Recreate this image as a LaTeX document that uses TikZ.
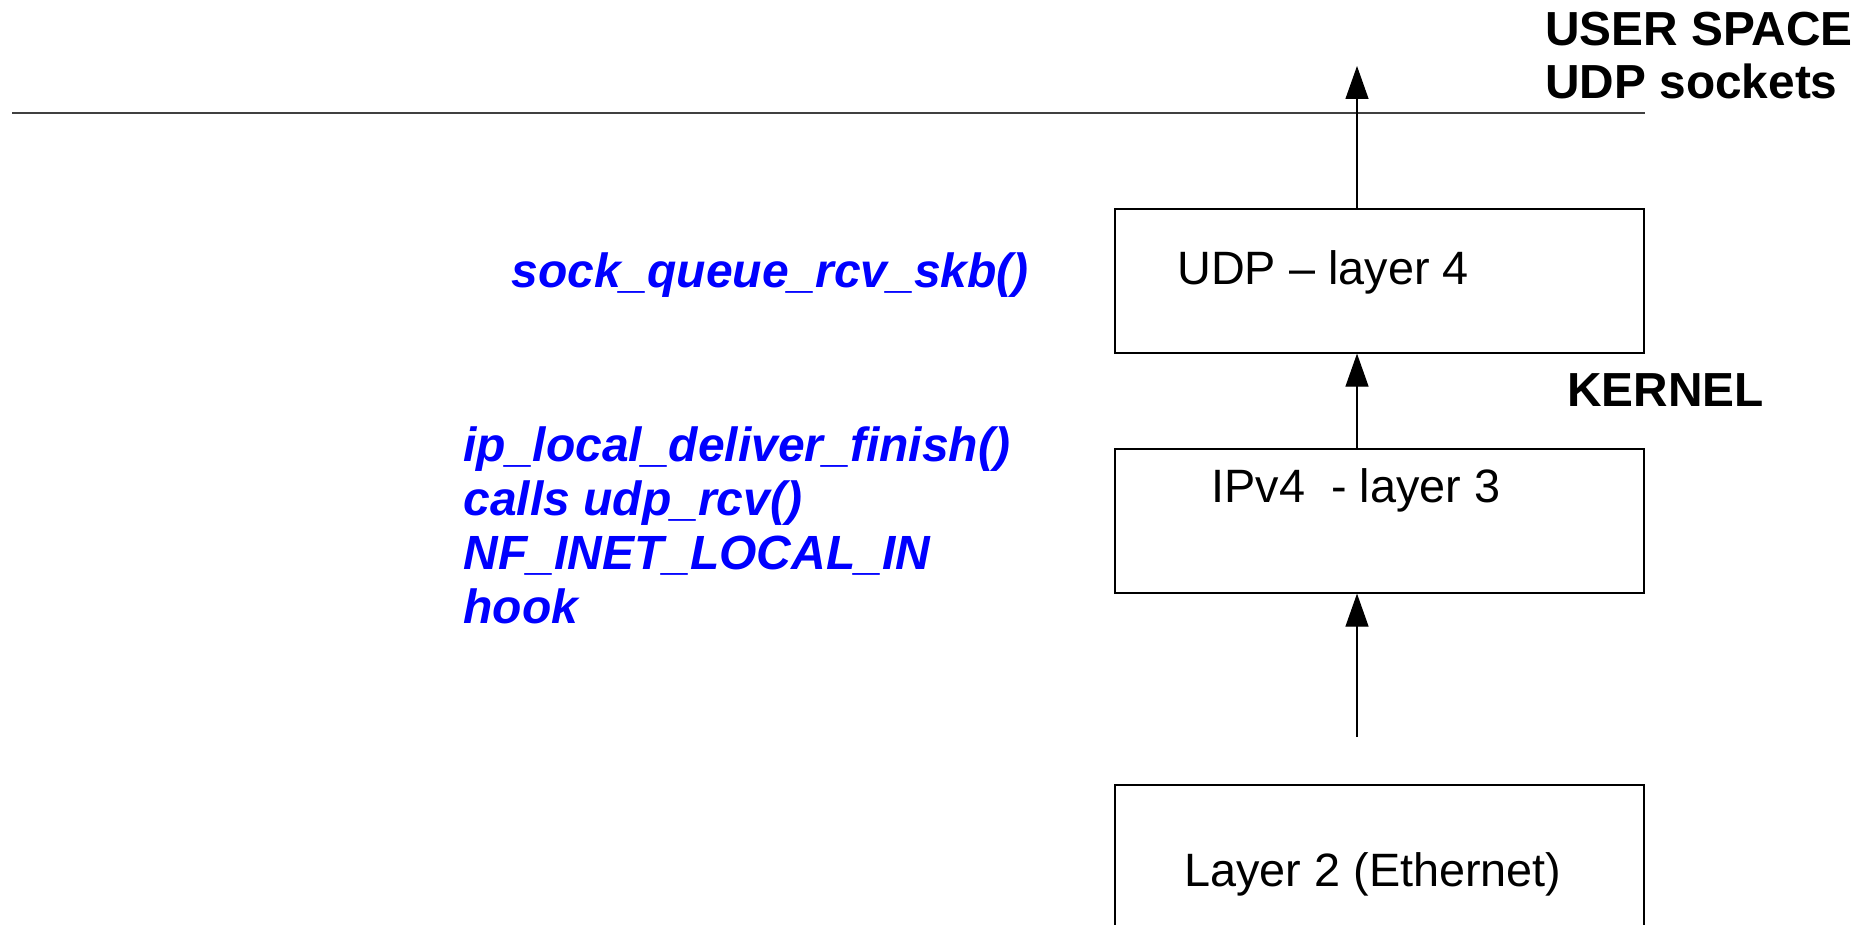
\documentclass[tikz,border=0pt]{standalone}
\usepackage{fontspec}
\setmainfont{Liberation Sans}
\usetikzlibrary{arrows.meta}
\tikzset{
  layer/.style={draw, line width=.6pt, minimum width=264.5pt, minimum height=72pt, inner sep=0pt},
  txt/.style={font=\fontsize{23.4}{26.5}\selectfont, inner sep=0pt, anchor=base west},
  bold/.style={txt, font=\fontsize{23.9}{26.5}\selectfont\bfseries, align=left},
  hint/.style={txt, text=blue, font=\fontsize{24}{27}\selectfont\bfseries\itshape, align=left},
  up/.style={line width=.6pt, -{Triangle[length=16.5pt,width=11.5pt]}}
}
\begin{document}
\begin{tikzpicture}[x=.5pt, y=-.5pt]
  \clip (0,0) rectangle (1873,925);
  % user space / kernel border
  \draw [line width=.6pt, black!75] (12,113) -- (1645,113);
  \node [bold] (user) at (1545,99) {USER SPACE\\UDP sockets};
  \node [bold] (kernel) at (1567,406) {KERNEL};
  % the three layers
  \node [layer] (udp) at (1379.5,281) {};
  \node [layer] (ip) at (1379.5,521) {};
  \node [layer, minimum height=100pt] (eth) at (1379.5,885) {};
  \node [txt] (udptxt) at (1177,285) {UDP -- layer 4};
  \node [txt] (iptxt) at (1211,502) {IPv4 \ - layer 3};
  \node [txt] (ethtxt) at (1184,886) {Layer 2 (Ethernet)};
  % kernel functions on the way up
  \node [hint] (sock) at (511,287) {sock\_queue\_rcv\_skb()};
  \node [hint] (deliver) at (463,623) {ip\_local\_deliver\_finish()\\calls udp\_rcv()\\NF\_INET\_LOCAL\_IN\\hook};
  % packet path
  \coordinate (sockets) at (1357,66);
  \coordinate (wire) at (1357,737);
  \draw [up] (udp.north -| sockets) -- (sockets);
  \draw [up] (ip.north -| sockets) -- (udp.south -| sockets);
  \draw [up] (wire) -- (ip.south -| wire);
\end{tikzpicture}
\end{document}
